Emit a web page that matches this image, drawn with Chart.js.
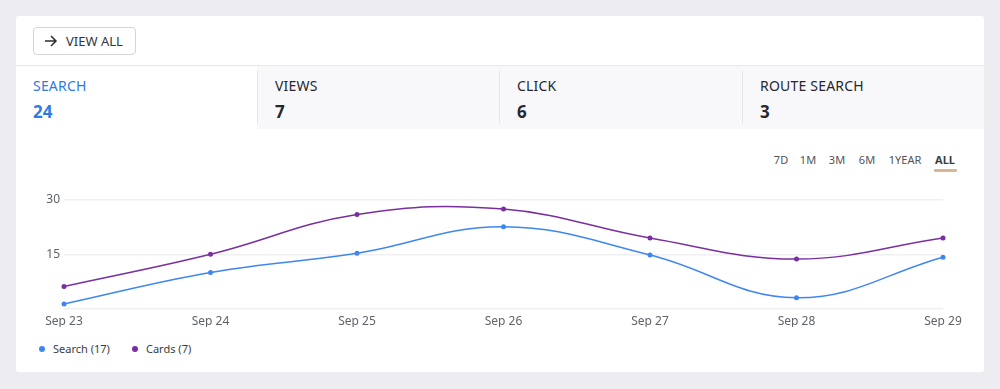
<!DOCTYPE html>
<html>
<head>
<meta charset="utf-8">
<script src="https://cdn.jsdelivr.net/npm/chart.js@4"></script>
<style>
  body { margin: 0; background: #ececf1; font-family: "Noto Sans", sans-serif; }
  .card { position: absolute; left: 16px; top: 16px; width: 968px; height: 356px; background: #fff; border-radius: 3px; }
  .btn { position: absolute; left: 17px; top: 11px; width: 103px; height: 28px; border: 1px solid #d3d5db; border-radius: 4px; box-sizing: border-box; font-size: 13px; color: #33363d; line-height: 26px; }
  .btn svg { position: absolute; left: 10px; top: 7px; }
  .btn span { position: absolute; left: 32px; }
  .tabs { position: absolute; left: 0; top: 49px; width: 968px; height: 63px; border-top: 1px solid #e6e7eb; background: #f8f8fa; }
  .tab { position: absolute; top: 0; height: 63px; }
  .tab .lbl { position: absolute; left: 17px; top: 10px; font-size: 14px; color: #25282f; letter-spacing: 0.2px; }
  .tab .num { position: absolute; left: 17px; top: 34px; font-size: 17px; font-weight: bold; color: #25282f; }
  .tab.active { background: #fff; }
  .tab.active .lbl, .tab.active .num { color: #2f7be0; }
  .sep { position: absolute; top: 5px; width: 1px; height: 52px; background: #e3e4e8; }
  .ranges { position: absolute; top: 136px; font-size: 11px; color: #50535a; }
  .ranges span { position: absolute; white-space: nowrap; transform: translateX(-50%); }
  .ranges .on { font-weight: bold; color: #3a3d44; }
  .uline { position: absolute; left: 918px; top: 153px; width: 23px; height: 3px; background: #d9b88f; border-radius: 1px; }
  #chart-container { position: absolute; left: 0; top: 164px; width: 968px; height: 147px; }
  .legend { position: absolute; top: 325px; font-size: 11px; color: #3a3d45; }
  .legend span { position: absolute; white-space: nowrap; }
  .dot { display: inline-block; width: 6px; height: 6px; border-radius: 3px; margin-right: 8px; vertical-align: 1px; }
</style>
</head>
<body>
<div class="card">
  <div class="btn">
    <svg width="14" height="12" viewBox="0 0 14 12"><path d="M1 6 H12 M7 1 L12 6 L7 11" stroke="#2b2e34" stroke-width="1.5" fill="none"/></svg>
    <span>VIEW ALL</span>
  </div>
  <div class="tabs">
    <div class="tab active" style="left:0;width:241px"><div class="lbl">SEARCH</div><div class="num">24</div></div>
    <div class="tab" style="left:242px;width:241px"><div class="lbl">VIEWS</div><div class="num">7</div></div>
    <div class="tab" style="left:484px;width:242px"><div class="lbl">CLICK</div><div class="num">6</div></div>
    <div class="tab" style="left:727px;width:241px"><div class="lbl">ROUTE SEARCH</div><div class="num">3</div></div>
    <div class="sep" style="left:241px"></div>
    <div class="sep" style="left:483px"></div>
    <div class="sep" style="left:726px"></div>
  </div>
  <div class="ranges">
    <span style="left:765px">7D</span>
    <span style="left:792px">1M</span>
    <span style="left:821px">3M</span>
    <span style="left:851px">6M</span>
    <span style="left:889px">1YEAR</span>
    <span class="on" style="left:929px">ALL</span>
  </div>
  <div class="uline"></div>
  <div id="chart-container"><canvas id="c"></canvas></div>
  <div class="legend">
    <span style="left:23px"><i class="dot" style="background:#3f86f2"></i>Search (17)</span>
    <span style="left:116px"><i class="dot" style="background:#7a2fa0"></i>Cards (7)</span>
  </div>
</div>
<script>
// データ
var labels = ['Sep 23', 'Sep 24', 'Sep 25', 'Sep 26', 'Sep 27', 'Sep 28', 'Sep 29'];
var searchData = [1.3, 10, 15.3, 22.6, 14.8, 3, 14.2];
var cardsData = [6.1, 15, 26, 27.5, 19.5, 13.7, 19.5];
var yTicks = [0, 15, 30];

var ctx = document.getElementById('c').getContext('2d');

var chart = new Chart(ctx, {
  type: 'line',
  data: {
    labels: labels,
    datasets: [{
      label: 'Search (17)',
      data: searchData,
      borderColor: '#3f86f2',
      backgroundColor: '#3f86f2',
      borderWidth: 1.5,
      pointRadius: 2.5,
      pointBorderWidth: 0,
      tension: 0.4
    }, {
      label: 'Cards (7)',
      data: cardsData,
      borderColor: '#7a2fa0',
      backgroundColor: '#7a2fa0',
      borderWidth: 1.5,
      pointRadius: 2.5,
      pointBorderWidth: 0,
      tension: 0.4
    }]
  },
  options: {
    responsive: true,
    maintainAspectRatio: false,
    animation: false,
    layout: {
      padding: { left: 0, right: 41, top: 20, bottom: 0 }
    },
    scales: {
      x: {
        grid: { display: false },
        border: { display: false },
        ticks: {
          color: '#5f636b',
          font: { family: 'Noto Sans', size: 12 },
          padding: -2,
          maxRotation: 0
        }
      },
      y: {
        min: 0,
        max: 30,
        afterFit: function(scale) { scale.width = 48; },
        afterBuildTicks: function(scale) {
          scale.ticks = yTicks.map(function(v) { return { value: v }; });
        },
        grid: { color: '#f0f0f3', drawTicks: false, lineWidth: 1.5 },
        border: { display: false },
        ticks: {
          color: '#5f636b',
          font: { family: 'Noto Sans', size: 12 },
          padding: 4,
          callback: function(v) { return v === 0 ? '' : v; }
        }
      }
    },
    plugins: {
      legend: { display: false },
      tooltip: { enabled: false }
    }
  }
});
</script>
</body>
</html>
